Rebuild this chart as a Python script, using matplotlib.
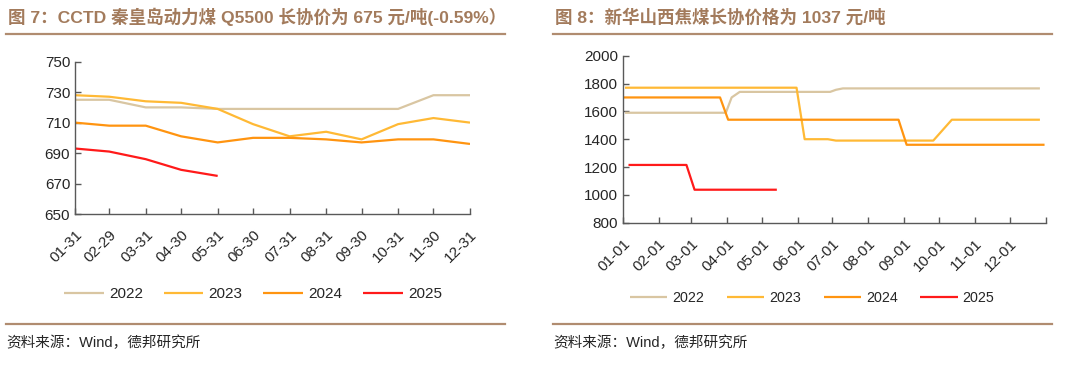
import matplotlib
matplotlib.use("Agg")
import matplotlib.pyplot as plt
import matplotlib.dates as mdates
from matplotlib.lines import Line2D
import numpy as np

plt.rcParams['font.family'] = ['Liberation Sans', 'Noto Sans CJK SC', 'DejaVu Sans']

# ---------------- data: chart 7 (monthly) ----------------
months7 = ["01-31", "02-29", "03-31", "04-30", "05-31", "06-30",
           "07-31", "08-31", "09-30", "10-31", "11-30", "12-31"]
cctd_2022 = [725, 725, 720, 720, 719, 719, 719, 719, 719, 719, 728, 728]
cctd_2023 = [728, 727, 724, 723, 719, 709, 701, 704, 699, 709, 713, 710]
cctd_2024 = [710, 708, 708, 701, 697, 700, 700, 699, 697, 699, 699, 696]
cctd_2025 = [693, 691, 686, 679, 675]

# ---------------- data: chart 8 (change points) ----------------
xh_2022_dates = ["01-03", "03-31", "04-05", "04-12", "06-29", "07-04", "07-10", "12-27"]
xh_2022_vals = [1590, 1590, 1700, 1740, 1740, 1755, 1765, 1765]
xh_2023_dates = ["01-03", "05-31", "06-07", "06-27", "07-04", "09-26", "10-12", "12-27"]
xh_2023_vals = [1770, 1770, 1400, 1400, 1390, 1390, 1540, 1540]
xh_2024_dates = ["01-02", "03-26", "04-02", "08-27", "09-03", "12-31"]
xh_2024_vals = [1700, 1700, 1540, 1540, 1360, 1360]
xh_2025_dates = ["01-06", "02-25", "03-04", "05-14"]
xh_2025_vals = [1215, 1215, 1037, 1037]
tick8_labels = ["01-01", "02-01", "03-01", "04-01", "05-01", "06-01",
                "07-01", "08-01", "09-01", "10-01", "11-01", "12-01", ""]

years = ["2022", "2023", "2024", "2025"]
colors = ["#D9C6A2", "#FFB935", "#FF9410", "#FF1A1A"]

title7 = "图 7：CCTD 秦皇岛动力煤 Q5500 长协价为 675 元/吨(-0.59%）"
title8 = "图 8：新华山西焦煤长协价格为 1037 元/吨"
source = "资料来源：Wind，德邦研究所"

BROWN = "#A37B5C"
LINEBROWN = "#B08C70"
AXC = "#595959"
TXT = "#262626"

def d7(md):
    return np.datetime64("2024-" + md)

def d8(md):
    return np.datetime64("2023-" + md)

fig = plt.figure(figsize=(10.8, 3.66), dpi=100)

def px(x, y):
    return x / 1080.0, 1 - y / 366.0

def style_ax(ax):
    for s in ["top", "right"]:
        ax.spines[s].set_visible(False)
    for s in ["left", "bottom"]:
        ax.spines[s].set_color(AXC)
        ax.spines[s].set_linewidth(1.0)
    ax.tick_params(axis="both", direction="in", color=AXC, length=4, width=1.0,
                   labelsize=11, labelcolor=TXT)
    ax.tick_params(axis="x", pad=10)
    ax.set_facecolor("none")

# ---------- left axes ----------
x0, y0 = px(75, 214)
x1, y1 = px(470, 61.7)
ax1 = fig.add_axes([x0, y0, x1 - x0, y1 - y0])
dates7 = [d7(m) for m in months7]
series7 = [cctd_2022, cctd_2023, cctd_2024, cctd_2025]
for yr, vals, c in zip(years, series7, colors):
    ax1.plot(dates7[:len(vals)], vals, color=c, lw=1.6, label=yr, solid_capstyle="butt")
ax1.set_ylim(650, 750)
ax1.set_yticks(np.arange(650, 751, 20))
ax1.set_xlim(dates7[0], dates7[-1])
ax1.set_xticks(dates7)
ax1.set_xticklabels(months7, rotation=45, ha="right", rotation_mode="anchor")
style_ax(ax1)

# ---------- right axes ----------
x0, y0 = px(622.7, 222.7)
x1, y1 = px(1045.7, 55.7)
ax2 = fig.add_axes([x0, y0, x1 - x0, y1 - y0])
series8 = [(xh_2022_dates, xh_2022_vals), (xh_2023_dates, xh_2023_vals),
           (xh_2024_dates, xh_2024_vals), (xh_2025_dates, xh_2025_vals)]
for yr, (ds, vs), c in zip(years, series8, colors):
    ax2.plot([d8(d) for d in ds], vs, color=c, lw=1.6, label=yr, solid_capstyle="butt")
ticks8 = [np.datetime64("2023-%02d-01" % m) for m in range(1, 13)] + [np.datetime64("2024-01-01")]
ax2.set_xlim(ticks8[0], ticks8[-1])
ax2.set_xticks(ticks8)
ax2.set_xticklabels(tick8_labels, rotation=45, ha="right", rotation_mode="anchor")
ax2.set_ylim(800, 2000)
ax2.set_yticks(np.arange(800, 2001, 200))
style_ax(ax2)

# ---------- titles, rules, sources ----------
fig.text(8 / 1080, 1 - 17 / 366, title7, fontsize=12.6, fontweight="bold", color=BROWN,
         ha="left", va="center")
fig.text(555 / 1080, 1 - 17 / 366, title8, fontsize=12.6, fontweight="bold", color=BROWN,
         ha="left", va="center")

for (xa, xb) in [(6, 505), (553, 1052)]:
    for yy in [33.5, 324]:
        fig.add_artist(Line2D([xa / 1080, xb / 1080], [1 - yy / 366, 1 - yy / 366],
                              color=LINEBROWN, lw=1.6, transform=fig.transFigure))

fig.text(6 / 1080, 1 - 343 / 366, source, fontsize=10.5, color=TXT, ha="left", va="center")
fig.text(553 / 1080, 1 - 343 / 366, source, fontsize=10.5, color=TXT, ha="left", va="center")

# ---------- legends ----------
h1, l1 = ax1.get_legend_handles_labels()
fig.legend(h1, l1, loc="center", bbox_to_anchor=(253 / 1080, 1 - 294 / 366), ncol=4,
           frameon=False, fontsize=11, handlelength=2.6, handletextpad=0.35,
           columnspacing=1.35, labelcolor=TXT)
h2, l2 = ax2.get_legend_handles_labels()
fig.legend(h2, l2, loc="center", bbox_to_anchor=(812 / 1080, 1 - 298.5 / 366), ncol=4,
           frameon=False, fontsize=10.3, handlelength=2.6, handletextpad=0.35,
           columnspacing=1.6, labelcolor=TXT)

fig.savefig("out.png", dpi=100, facecolor="white")
